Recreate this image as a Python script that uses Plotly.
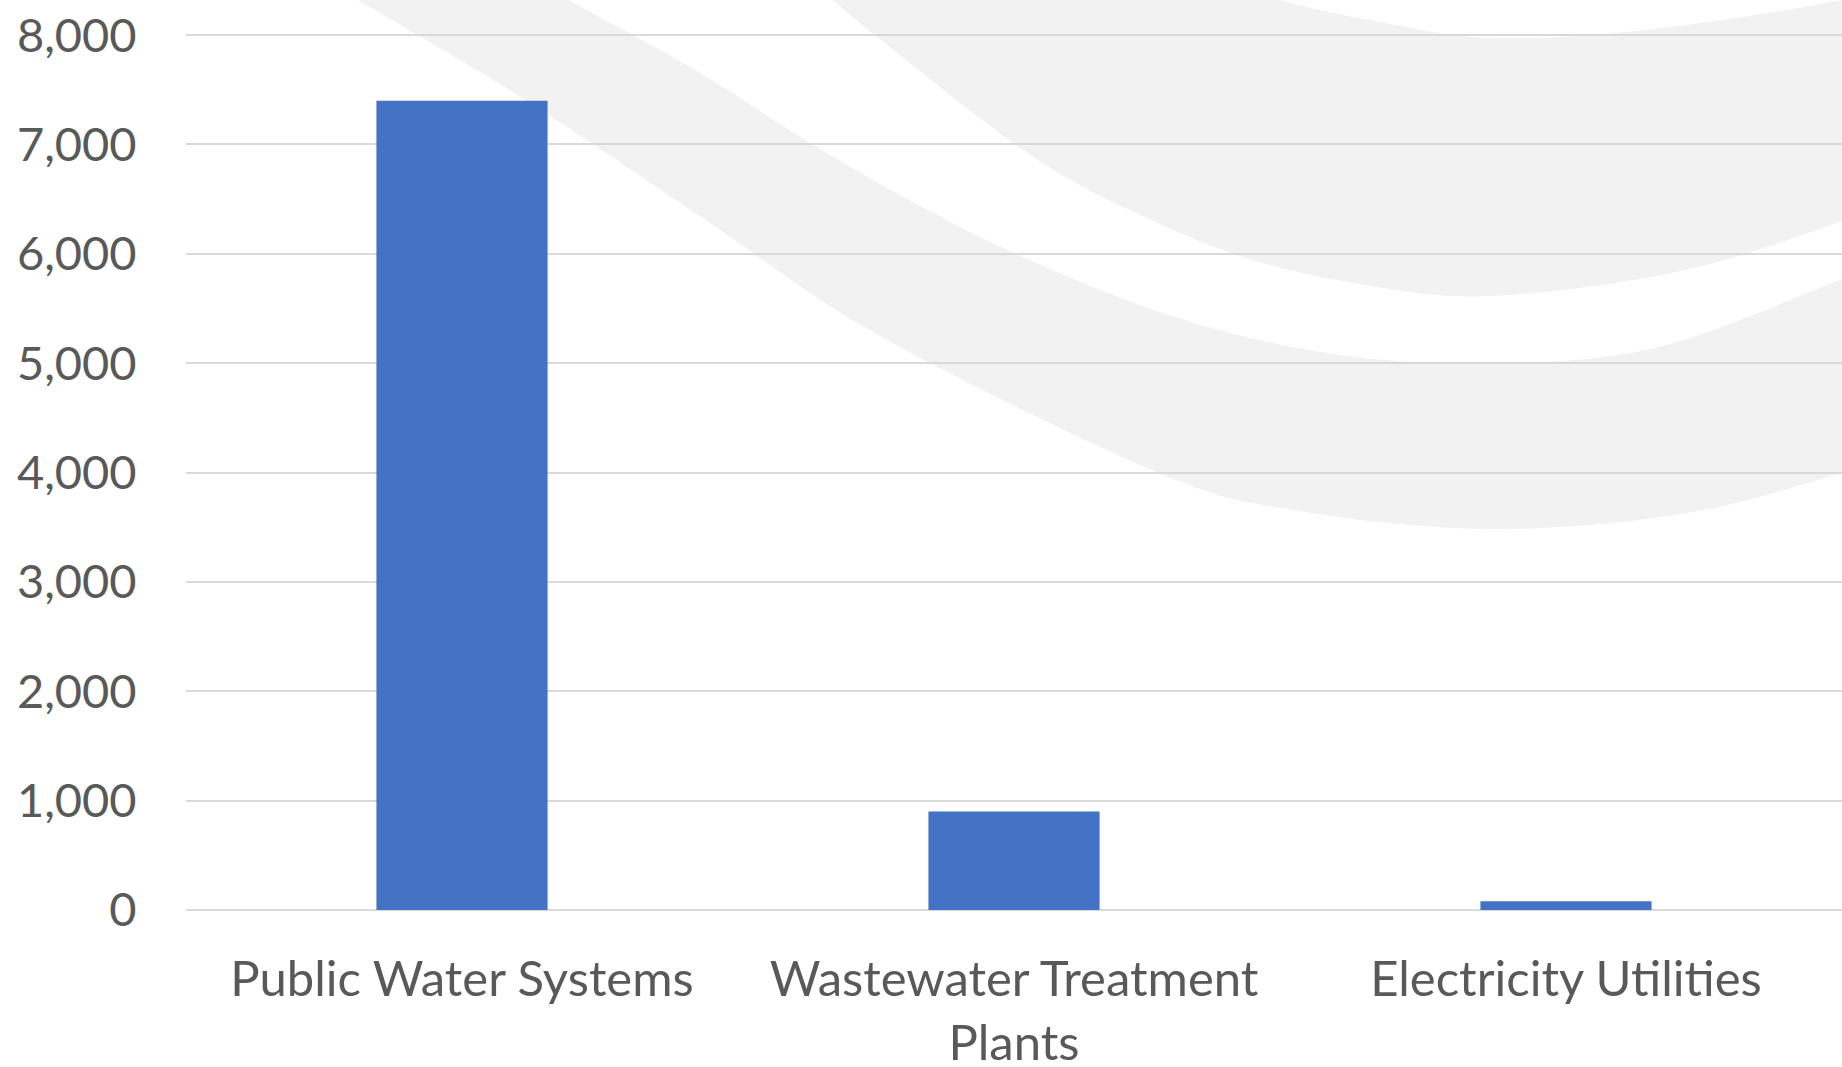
import plotly.graph_objects as go

# ---- data ----
categories = ["Public Water Systems", "Wastewater Treatment<br>Plants", "Electricity Utilities"]
values = [7400, 900, 80]
y_tickvals = [0, 1000, 2000, 3000, 4000, 5000, 6000, 7000, 8000]
y_range = [0, 8010]

# ---- layout geometry (pixels) ----
W, H = 1842, 1067
L, R, T, B = 186, 0, 34, 157
PW, PH = W - L - R, H - T - B


def to_paper(p):
    x, y = p
    return ((x - L) / PW, (H - B - y) / PH)


def catmull(points):
    """Smooth cubic path segments through the given pixel points (decorative background)."""
    pts = [to_paper(p) for p in points]
    segs = []
    n = len(pts)
    for i in range(n - 1):
        p0 = pts[i - 1] if i > 0 else pts[i]
        p1 = pts[i]
        p2 = pts[i + 1]
        p3 = pts[i + 2] if i + 2 < n else pts[i + 1]
        c1 = (p1[0] + (p2[0] - p0[0]) / 6, p1[1] + (p2[1] - p0[1]) / 6)
        c2 = (p2[0] - (p3[0] - p1[0]) / 6, p2[1] - (p3[1] - p1[1]) / 6)
        segs.append(f"C {c1[0]:.5f},{c1[1]:.5f} {c2[0]:.5f},{c2[1]:.5f} {p2[0]:.5f},{p2[1]:.5f}")
    return pts, segs


def band_path(top_edge, bottom_edge):
    tp, tsegs = catmull(top_edge)
    bp, bsegs = catmull(list(reversed(bottom_edge)))
    s = f"M {tp[0][0]:.5f},{tp[0][1]:.5f} " + " ".join(tsegs)
    s += f" L {bp[0][0]:.5f},{bp[0][1]:.5f} " + " ".join(bsegs) + " Z"
    return s


# decorative swoosh edges (pixel coordinates of the background artwork)
upper_top = [(1150, -40), (1280, 0), (1380, 22), (1490, 38), (1646, 30), (1842, 0), (1920, -25)]
upper_bot = [(780, -45), (833, 0), (880, 39), (1016, 145), (1109, 200), (1237, 255),
             (1360, 284), (1490, 296), (1681, 271), (1842, 221), (1920, 190)]
lower_top = [(510, -35), (569, 0), (697, 71), (804, 139), (900, 195), (1016, 254), (1166, 314),
             (1309, 350), (1456, 363), (1646, 350), (1842, 279), (1920, 245)]
lower_bot = [(300, -35), (358, 0), (519, 96), (697, 214), (880, 336), (1159, 473),
             (1300, 511), (1490, 529), (1681, 514), (1842, 473), (1920, 445)]

shapes = [
    dict(type="path", xref="paper", yref="paper", layer="below",
         path=band_path(upper_top, upper_bot), fillcolor="#F2F2F3", line=dict(width=0)),
    dict(type="path", xref="paper", yref="paper", layer="below",
         path=band_path(lower_top, lower_bot), fillcolor="#F2F2F3", line=dict(width=0)),
]

FONT = "Lato, 'Open Sans', sans-serif"
TXT = "#595959"

fig = go.Figure(
    go.Bar(x=categories, y=values, marker=dict(color="#4472C4", line=dict(width=0)), width=0.31)
)

fig.update_layout(
    width=W, height=H, autosize=False,
    margin=dict(l=L, r=R, t=T, b=B, pad=0, autoexpand=False),
    paper_bgcolor="white", plot_bgcolor="rgba(0,0,0,0)",
    shapes=shapes,
    showlegend=False,
    font=dict(family=FONT, color=TXT, size=47),
)
fig.update_yaxes(
    range=y_range, tickvals=y_tickvals, tickformat=",", automargin=False,
    showgrid=True, gridcolor="#D9D9D9", gridwidth=2,
    zeroline=True, zerolinecolor="#D9D9D9", zerolinewidth=2,
    showline=False, ticks="outside", ticklen=39, tickcolor="rgba(0,0,0,0)",
    tickfont=dict(family=FONT, color=TXT, size=47), fixedrange=True,
)
fig.update_xaxes(
    automargin=False,
    showgrid=False, showline=False, ticks="outside", ticklen=26, tickcolor="rgba(0,0,0,0)",
    tickfont=dict(family=FONT, color=TXT, size=49), tickangle=0, fixedrange=True,
)

fig.write_html(
    "out.html",
    config={"displayModeBar": False},
    post_script="document.body.style.margin='0';document.body.style.overflow='hidden';",
)
